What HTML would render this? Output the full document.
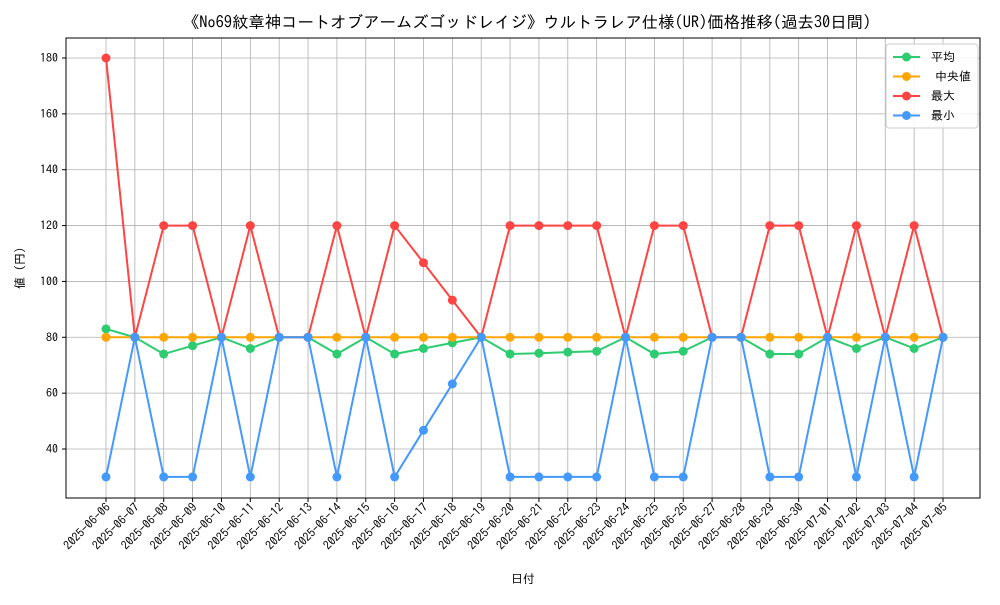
<!DOCTYPE html>
<html><head><meta charset="utf-8"><style>
body{margin:0;background:#fff}
svg text{font-family:"IPAGothic","Noto Sans CJK JP",monospace;fill:#000}
</style></head><body>
<svg id="c" width="1000" height="600" xmlns="http://www.w3.org/2000/svg">
<rect width="1000" height="600" fill="#fff"/>
<text x="527" y="28" font-size="16.4" text-anchor="middle">《No69紋章神コートオブアームズゴッドレイジ》ウルトラレア仕様(UR)価格推移(過去30日間)</text>
<g id="grid"></g><g id="axes"></g><g id="series"></g>
<rect x="66" y="38" width="914" height="460" fill="none" stroke="#000" stroke-width="1"/>
<text x="523" y="583" font-size="12" text-anchor="middle">日付</text>
<text transform="translate(24,268) rotate(-90)" font-size="12" text-anchor="middle">値 (円)</text>
<g id="legend"></g>
</svg>
<script>
const dates=["2025-06-06","2025-06-07","2025-06-08","2025-06-09","2025-06-10","2025-06-11","2025-06-12","2025-06-13","2025-06-14","2025-06-15","2025-06-16","2025-06-17","2025-06-18","2025-06-19","2025-06-20","2025-06-21","2025-06-22","2025-06-23","2025-06-24","2025-06-25","2025-06-26","2025-06-27","2025-06-28","2025-06-29","2025-06-30","2025-07-01","2025-07-02","2025-07-03","2025-07-04","2025-07-05"];
const meanVals=[83,80,74,77,80,76,80,80,74,80,74,76,78,80,74,74.3,74.7,75,80,74,75,80,80,74,74,80,76,80,76,80];
const medianVals=[80,80,80,80,80,80,80,80,80,80,80,80,80,80,80,80,80,80,80,80,80,80,80,80,80,80,80,80,80,80];
const maxVals=[180,80,120,120,80,120,80,80,120,80,120,106.7,93.3,80,120,120,120,120,80,120,120,80,80,120,120,80,120,80,120,80];
const minVals=[30,80,30,30,80,30,80,80,30,80,30,46.7,63.3,80,30,30,30,30,80,30,30,80,80,30,30,80,30,80,30,80];
const yTicks=[40,60,80,100,120,140,160,180];
const seriesNames=["平均","中央値","最大","最小"];
const NS="http://www.w3.org/2000/svg";
const X=i=>106+i*(943-106)/(dates.length-1);
const Y=v=>449-(v-40)*(449-58)/140;
function mk(t,a,p){const e=document.createElementNS(NS,t);for(const k in a)e.setAttribute(k,a[k]);p.appendChild(e);return e;}
const g=document.getElementById('grid'),ax=document.getElementById('axes'),sg=document.getElementById('series'),lg=document.getElementById('legend');
dates.forEach((d,i)=>{
 const l=mk('line',{x1:X(i),x2:X(i),y1:38,y2:498,stroke:'#b0b0b0','stroke-width':0.8},g);
 
 
 mk('line',{x1:X(i),x2:X(i),y1:498,y2:502,stroke:'#000'},ax);
 const t=mk('text',{'font-size':12,'text-anchor':'end',transform:`translate(${X(i)+5},${508}) rotate(-45)`},ax);
 t.textContent=d;
 
 
});
yTicks.forEach(v=>{
 const l=mk('line',{x1:66,x2:980,y1:Y(v),y2:Y(v),stroke:'#b0b0b0','stroke-width':0.8},g);
 
 
 mk('line',{x1:62,x2:66,y1:Y(v),y2:Y(v),stroke:'#000'},ax);
 const t=mk('text',{x:58,y:Y(v)+4,'font-size':12,'text-anchor':'end'},ax);
 t.textContent=v;
 
 
});
const all=[meanVals,medianVals,maxVals,minVals],cols=['#2ecc71','#ffa500','#ff4444','#4499ff'],keys=['mean','median','max','min'];
all.forEach((vals,s)=>{
 const p=mk('polyline',{points:vals.map((v,i)=>X(i)+','+Y(v)).join(' '),fill:'none',stroke:cols[s],'stroke-width':2},sg);
 
 
 vals.forEach((v,i)=>{
  const c=mk('circle',{cx:X(i),cy:Y(v),r:4.5,fill:cols[s]},sg);
  
  
 });
});
const box=mk('rect',{x:886,y:44,width:92,height:84,fill:'#fff','fill-opacity':0.85,stroke:'#ccc',rx:3},lg);


seriesNames.forEach((n,s)=>{
 const y=57+s*19.5;
 const e=mk('g',{},lg);
 
 
 mk('line',{x1:893,x2:920,y1:y,y2:y,stroke:cols[s],'stroke-width':2},e);
 mk('circle',{cx:906.5,cy:y,r:4.5,fill:cols[s]},e);
 const t=mk('text',{x:s===1?935:931,y:y+4,'font-size':12},e);
 t.textContent=n;
});
</script>
</body></html>
